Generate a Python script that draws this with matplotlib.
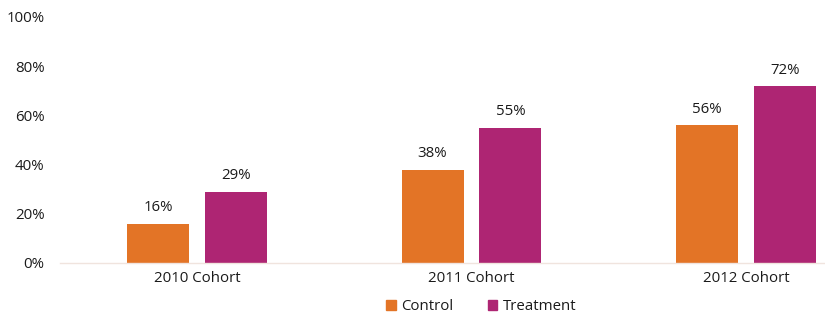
import matplotlib.pyplot as plt
import numpy as np
from matplotlib.patches import Patch

cohorts = ["2010 Cohort", "2011 Cohort", "2012 Cohort"]
control = [16, 38, 56]
treatment = [29, 55, 72]
yticks = [0, 20, 40, 60, 80, 100]

ORANGE = "#E37426"
MAGENTA = "#AE2573"
TEXT = "#1a1a1a"
FS = 10.8

plt.rcParams['font.family'] = ['Open Sans', 'DejaVu Sans']

fig = plt.figure(figsize=(8.25, 3.27), dpi=100)
# axes extends past the right edge, like the original (right part clipped)
ax = fig.add_axes([60 / 825, 64 / 327, 823 / 825, 246 / 327])

x = np.arange(len(cohorts))
w = 0.226
off = 0.142
b1 = ax.bar(x - off, control, w, color=ORANGE, label="Control")
b2 = ax.bar(x + off, treatment, w, color=MAGENTA, label="Treatment")

for bars, vals in ((b1, control), (b2, treatment)):
    for r, v in zip(bars, vals):
        ax.annotate(f"{v}%", (r.get_x() + r.get_width() / 2, v),
                    xytext=(0, 6), textcoords="offset points",
                    ha="center", va="bottom", fontsize=FS, color=TEXT)

ax.set_xlim(-0.5, 2.5)
ax.set_ylim(0, 100)
ax.set_yticks(yticks)
ax.set_yticklabels([f"{t}%" for t in yticks], fontsize=FS, color=TEXT)
ax.set_xticks(x)
ax.set_xticklabels(cohorts, fontsize=FS, color=TEXT)
ax.tick_params(axis="both", length=0)
ax.tick_params(axis="y", pad=11)
ax.tick_params(axis="x", pad=6)

for s in ("top", "right", "left"):
    ax.spines[s].set_visible(False)
ax.spines["bottom"].set_color("#F0E4DE")
ax.spines["bottom"].set_linewidth(1)

handles = [Patch(color=ORANGE, label="Control"), Patch(color=MAGENTA, label="Treatment")]
fig.legend(handles=handles, loc="center", bbox_to_anchor=(481 / 825, 1 - 307 / 327),
           ncol=2, frameon=False, fontsize=FS, handlelength=0.65, handleheight=0.65,
           handletextpad=0.35, columnspacing=2.3, labelcolor=TEXT)

fig.savefig("out.png", dpi=100)
